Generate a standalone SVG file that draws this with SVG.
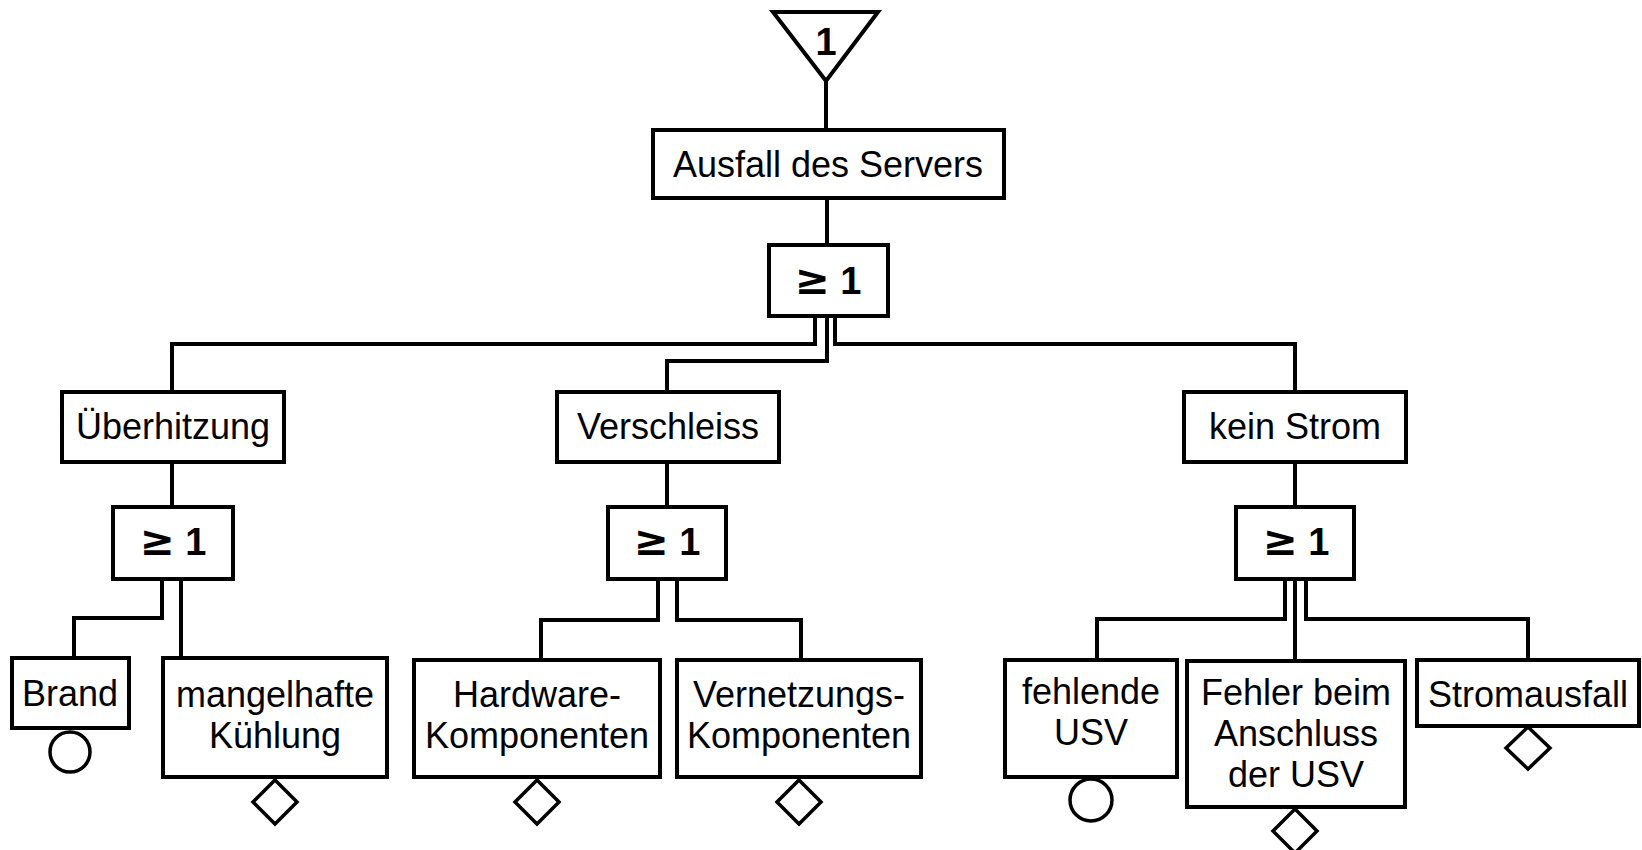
<svg xmlns="http://www.w3.org/2000/svg" width="1642" height="850" viewBox="0 0 1642 850">
<style>
.box{fill:#fff;stroke:#000;stroke-width:4}
.sym{fill:#fff;stroke:#000;stroke-width:3.5}
.ln{fill:none;stroke:#000;stroke-width:4;stroke-linejoin:miter;stroke-linecap:square}
.t{font-family:"Liberation Sans",Arial,sans-serif;font-size:36px;fill:#000;text-anchor:middle}
.g{font-family:"Liberation Sans",Arial,sans-serif;font-size:38px;font-weight:bold;fill:#000;text-anchor:middle}
.ge{font-family:"DejaVu Sans",sans-serif;font-size:42px;font-weight:bold}
</style>
<rect width="1642" height="850" fill="#fff"/>
<g id="connectors">
<path class="ln" d="M826 81V130"/>
<path class="ln" d="M827 198V245"/>
<path class="ln" d="M815 316V344H172V392"/>
<path class="ln" d="M827 316V361H667V392"/>
<path class="ln" d="M835 316V344H1295V392"/>
<path class="ln" d="M172 462V507"/>
<path class="ln" d="M667 462V507"/>
<path class="ln" d="M1295 462V507"/>
<path class="ln" d="M162 579V618H74V658"/>
<path class="ln" d="M181 579V658"/>
<path class="ln" d="M658 579V620H541V660"/>
<path class="ln" d="M677 579V620H801V660"/>
<path class="ln" d="M1285 579V619H1097V660"/>
<path class="ln" d="M1295 579V661"/>
<path class="ln" d="M1306 579V619H1528V660"/>
</g>
<g id="top">
<polygon class="box" points="773,12 878,12 826,81"/>
<text class="g" x="826" y="55">1</text>
</g>
<g id="ausfall">
<rect class="box" x="653" y="130" width="351" height="68"/>
<text class="t" x="828" y="177">Ausfall des Servers</text>
</g>
<g id="gate-top">
<rect class="box" x="769" y="245" width="119" height="71"/>
<text class="g" x="828" y="294"><tspan class="ge">≥</tspan> 1</text>
</g>
<g id="ueberhitzung">
<rect class="box" x="62" y="392" width="222" height="70"/>
<text class="t" x="173" y="439">Überhitzung</text>
</g>
<g id="verschleiss">
<rect class="box" x="557" y="392" width="222" height="70"/>
<text class="t" x="668" y="439">Verschleiss</text>
</g>
<g id="kein-strom">
<rect class="box" x="1184" y="392" width="222" height="70"/>
<text class="t" x="1295" y="439">kein Strom</text>
</g>
<g id="gate-ueberhitzung">
<rect class="box" x="113" y="507" width="120" height="72"/>
<text class="g" x="173" y="555"><tspan class="ge">≥</tspan> 1</text>
</g>
<g id="gate-verschleiss">
<rect class="box" x="608" y="507" width="118" height="72"/>
<text class="g" x="667" y="555"><tspan class="ge">≥</tspan> 1</text>
</g>
<g id="gate-kein-strom">
<rect class="box" x="1236" y="507" width="118" height="72"/>
<text class="g" x="1296" y="555"><tspan class="ge">≥</tspan> 1</text>
</g>
<g id="brand">
<rect class="box" x="12" y="658" width="117" height="70"/>
<text class="t" x="70" y="706">Brand</text>
<circle class="sym" cx="70" cy="752" r="20"/>
</g>
<g id="mangelhafte-kuehlung">
<rect class="box" x="163" y="658" width="224" height="119"/>
<text class="t" x="275" y="707">mangelhafte</text>
<text class="t" x="275" y="748">Kühlung</text>
<polygon class="sym" points="275,780 297,802 275,824 253,802"/>
</g>
<g id="hardware">
<rect class="box" x="414" y="660" width="246" height="117"/>
<text class="t" x="537" y="707">Hardware-</text>
<text class="t" x="537" y="748">Komponenten</text>
<polygon class="sym" points="537,780 559,802 537,824 515,802"/>
</g>
<g id="vernetzung">
<rect class="box" x="677" y="660" width="244" height="117"/>
<text class="t" x="799" y="707">Vernetzungs-</text>
<text class="t" x="799" y="748">Komponenten</text>
<polygon class="sym" points="799,780 821,802 799,824 777,802"/>
</g>
<g id="fehlende-usv">
<rect class="box" x="1005" y="660" width="172" height="117"/>
<text class="t" x="1091" y="704">fehlende</text>
<text class="t" x="1091" y="745">USV</text>
<circle class="sym" cx="1091" cy="800" r="21"/>
</g>
<g id="fehler-anschluss">
<rect class="box" x="1187" y="661" width="218" height="146"/>
<text class="t" x="1296" y="705">Fehler beim</text>
<text class="t" x="1296" y="746">Anschluss</text>
<text class="t" x="1296" y="787">der USV</text>
<polygon class="sym" points="1295,809 1317,831 1295,853 1273,831"/>
</g>
<g id="stromausfall">
<rect class="box" x="1417" y="660" width="222" height="66"/>
<text class="t" x="1528" y="707">Stromausfall</text>
<polygon class="sym" points="1528,727 1550,748 1528,769 1506,748"/>
</g>
</svg>
